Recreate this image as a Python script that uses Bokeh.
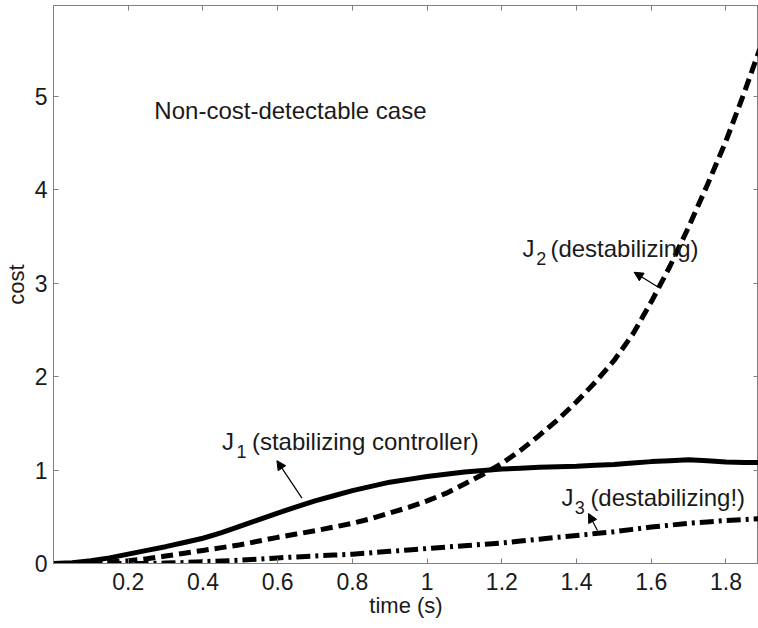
from bokeh.plotting import figure
from bokeh.models import LinearAxis, Range1d, FixedTicker, Arrow, NormalHead, ColumnDataSource
from bokeh.core.properties import value
from bokeh.embed import file_html
from bokeh.resources import INLINE

# ---- data ----
t = [0.0, 0.05, 0.1, 0.15, 0.2, 0.25, 0.3, 0.35, 0.4, 0.45, 0.5, 0.55, 0.6, 0.65, 0.7, 0.75,
     0.8, 0.85, 0.9, 0.95, 1.0, 1.05, 1.1, 1.15, 1.2, 1.25, 1.3, 1.35, 1.4, 1.45, 1.5, 1.55,
     1.6, 1.65, 1.7, 1.75, 1.8, 1.85, 1.89]
J1 = [0.0, 0.008, 0.03, 0.06, 0.10, 0.14, 0.18, 0.225, 0.27, 0.33, 0.40, 0.47, 0.54, 0.605, 0.67, 0.725,
      0.78, 0.825, 0.87, 0.90, 0.93, 0.955, 0.98, 0.995, 1.01, 1.02, 1.03, 1.035, 1.04, 1.05, 1.06, 1.075,
      1.09, 1.10, 1.11, 1.10, 1.085, 1.08, 1.08]
J2 = [0.0, 0.0, 0.005, 0.015, 0.03, 0.05, 0.08, 0.11, 0.14, 0.17, 0.20, 0.24, 0.28, 0.315, 0.35, 0.39,
      0.43, 0.48, 0.54, 0.60, 0.67, 0.75, 0.85, 0.955, 1.07, 1.21, 1.37, 1.54, 1.73, 1.94, 2.17, 2.45,
      2.80, 3.18, 3.60, 4.05, 4.52, 5.05, 5.50]
J3 = [0.0, 0.0, 0.0, 0.0, 0.0, 0.0, 0.005, 0.01, 0.02, 0.027, 0.035, 0.047, 0.06, 0.07, 0.08, 0.09,
      0.10, 0.115, 0.13, 0.145, 0.16, 0.175, 0.19, 0.205, 0.22, 0.24, 0.26, 0.28, 0.30, 0.32, 0.34, 0.365,
      0.39, 0.41, 0.43, 0.445, 0.46, 0.47, 0.48]

x_ticks = [0.2, 0.4, 0.6, 0.8, 1.0, 1.2, 1.4, 1.6, 1.8]
y_ticks = [0, 1, 2, 3, 4, 5]
x_tick_labels = {0.2: "0.2", 0.4: "0.4", 0.6: "0.6", 0.8: "0.8", 1.0: "1", 1.2: "1.2", 1.4: "1.4", 1.6: "1.6", 1.8: "1.8"}

title_text = "Non-cost-detectable case"
label_main = ["(stabilizing controller)", "(destabilizing)", "(destabilizing!)"]
label_sub = ["1", "2", "3"]

FONT = "Liberation Sans"
AX = "#7f7f7f"
TXT = "#1a1a1a"

p = figure(width=758, height=628, output_backend="svg", toolbar_location=None,
           x_range=Range1d(0, 1.887), y_range=Range1d(0, 5.97),
           min_border_left=51, min_border_right=0, min_border_top=5, min_border_bottom=65,
           x_axis_label="time (s)", y_axis_label="cost")
p.grid.visible = False
p.outline_line_color = AX
p.background_fill_color = "white"
p.border_fill_color = "white"

for ax in p.xaxis + p.yaxis:
    ax.axis_line_color = AX
    ax.major_tick_line_color = AX
    ax.minor_tick_line_color = None
    ax.major_tick_in = 5
    ax.major_tick_out = 0
    ax.major_label_text_font = FONT
    ax.major_label_text_font_size = "23px"
    ax.major_label_text_color = TXT
    ax.axis_label_text_font = FONT
    ax.axis_label_text_font_size = "22px"
    ax.axis_label_text_font_style = "normal"
    ax.axis_label_text_color = TXT

p.xaxis.ticker = FixedTicker(ticks=x_ticks)
p.xaxis.major_label_overrides = x_tick_labels
p.xaxis.major_label_standoff = 9
p.xaxis.axis_label_standoff = 0
p.yaxis.ticker = FixedTicker(ticks=y_ticks)
p.yaxis.major_label_standoff = 6
p.yaxis.axis_label_standoff = 3

for loc, ticks in (("above", x_ticks), ("right", y_ticks)):
    a = LinearAxis(ticker=FixedTicker(ticks=ticks), major_label_text_font_size="0px",
                   major_label_text_color=None, major_label_text_alpha=0,
                   major_label_standoff=0, axis_line_color=AX, major_tick_line_color=AX,
                   major_tick_in=5, major_tick_out=0, minor_tick_line_color=None)
    p.add_layout(a, loc)

src = ColumnDataSource(dict(t=t, J1=J1, J2=J2, J3=J3))
p.line("t", "J3", source=src, line_color="black", line_width=5, line_dash="14 5 3 5", line_join="round")
p.line("t", "J2", source=src, line_color="black", line_width=5, line_dash="12 6", line_join="round")
p.line("t", "J1", source=src, line_color="black", line_width=5, line_join="round")

# annotation text
p.text(x=[0.27], y=[4.85], text=[title_text], text_font=value(FONT), text_font_size="24px",
       text_color=TXT, text_baseline="alphabetic", text_align="left")
p.text(x=[0.451, 1.255, 1.360], y=[1.31, 3.37, 0.71], text=["J", "J", "J"], text_font=value(FONT),
       text_font_size="24px", text_color=TXT, text_baseline="alphabetic", text_align="left")
p.text(x=[0.490, 1.292, 1.395], y=[1.20, 3.26, 0.60], text=label_sub, text_font=value(FONT),
       text_font_size="18px", text_color=TXT, text_baseline="alphabetic", text_align="left")
p.text(x=[0.531, 1.330, 1.437], y=[1.31, 3.37, 0.71], text=label_main, text_font=value(FONT),
       text_font_size="24px", text_color=TXT, text_baseline="alphabetic", text_align="left")

# arrows
arrows = [((0.665, 0.70), (0.598, 1.10)), ((1.619, 2.955), (1.554, 3.116)), ((1.456, 0.353), (1.432, 0.535))]
for (xs, ys), (xe, ye) in arrows:
    p.add_layout(Arrow(end=NormalHead(size=9, fill_color="black", line_color="black"),
                       x_start=xs, y_start=ys, x_end=xe, y_end=ye, line_width=1.2, line_color="black"))

open("out.html", "w").write(file_html(p, INLINE))
